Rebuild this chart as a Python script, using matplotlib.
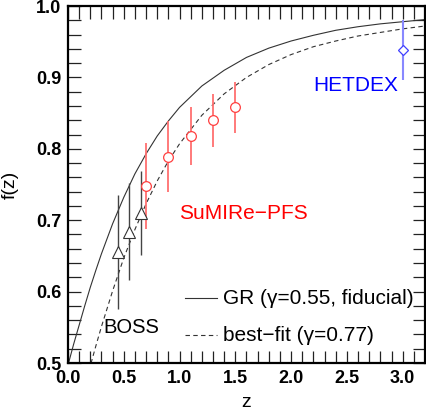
import matplotlib
matplotlib.use("Agg")
import matplotlib.pyplot as plt
from matplotlib.ticker import MultipleLocator

plt.rcParams["font.family"] = ["Liberation Sans", "DejaVu Sans"]

# growth rate curves
z_curve = [0.0, 0.05, 0.1, 0.15, 0.2, 0.25, 0.3, 0.4, 0.5, 0.6, 0.7, 0.8, 0.9,
           1.0, 1.2, 1.4, 1.6, 1.8, 2.0, 2.2, 2.4, 2.6, 2.8, 3.0, 3.2]
f_gr = [0.497, 0.526, 0.553, 0.580, 0.606, 0.630, 0.653, 0.695, 0.732, 0.765,
        0.793, 0.818, 0.839, 0.858, 0.888, 0.910, 0.928, 0.941, 0.951, 0.959,
        0.966, 0.971, 0.975, 0.978, 0.981]
f_best = [0.375, 0.406, 0.437, 0.467, 0.496, 0.524, 0.551, 0.601, 0.647, 0.687,
          0.723, 0.755, 0.783, 0.807, 0.847, 0.877, 0.900, 0.918, 0.932, 0.943,
          0.951, 0.958, 0.963, 0.968, 0.972]

# survey forecasts
boss_z = [0.45, 0.55, 0.65]
boss_f = [0.655, 0.684, 0.710]
boss_err = [0.080, 0.068, 0.059]

pfs_z = [0.7, 0.9, 1.1, 1.3, 1.5]
pfs_f = [0.748, 0.789, 0.818, 0.840, 0.858]
pfs_err = [0.060, 0.050, 0.040, 0.037, 0.036]

hetdex_z = [3.0]
hetdex_f = [0.938]
hetdex_err = [0.042]

fig = plt.figure(figsize=(4.26, 4.15), dpi=100)
ax = fig.add_axes([0.1596, 0.1253, 0.838, 0.8602])

ax.plot(z_curve, f_gr, "-", color="#333333", lw=0.8)
ax.plot(z_curve, f_best, "--", color="#333333", lw=0.8, dashes=(4, 3))

ax.errorbar(boss_z, boss_f, yerr=boss_err, fmt="^", ms=8, mfc="white",
            mec="#333333", mew=0.8, ecolor="#444444", elinewidth=1.0, capsize=0)
ax.errorbar(pfs_z, pfs_f, yerr=pfs_err, fmt="o", ms=7, mfc="white",
            mec="#ff4040", mew=0.9, ecolor="#ff7070", elinewidth=1.3, capsize=0)
ax.errorbar(hetdex_z, hetdex_f, yerr=hetdex_err, fmt="D", ms=5.5, mfc="white",
            mec="#4040ff", mew=0.9, ecolor="#8888ff", elinewidth=1.5, capsize=0)

ax.text(2.955, 0.889, "HETDEX", color="blue", fontsize=15, ha="right", va="center")
ax.text(0.997, 0.710, "SuMIRe\u2212PFS", color="red", fontsize=15, ha="left", va="center")
ax.text(0.314, 0.550, "BOSS", color="black", fontsize=14.5, ha="left", va="center")

# hand-made legend
ax.plot([1.05, 1.34], [0.591, 0.591], "-", color="#333333", lw=0.8)
ax.plot([1.05, 1.34], [0.539, 0.539], "--", color="#333333", lw=0.8, dashes=(4, 3))
ax.text(1.393, 0.591, "GR (\u03b3=0.55, fiducial)", fontsize=15, ha="left", va="center")
ax.text(1.393, 0.539, "best\u2212fit (\u03b3=0.77)", fontsize=15, ha="left", va="center")

ax.set_xlim(0, 3.2)
ax.set_ylim(0.5, 1.0)
ax.xaxis.set_major_locator(MultipleLocator(0.5))
ax.xaxis.set_minor_locator(MultipleLocator(0.1))
ax.yaxis.set_major_locator(MultipleLocator(0.1))
ax.yaxis.set_minor_locator(MultipleLocator(0.02))
ax.xaxis.set_major_formatter(plt.FormatStrFormatter("%.1f"))
ax.yaxis.set_major_formatter(plt.FormatStrFormatter("%.1f"))
ax.tick_params(which="both", direction="in", top=True, right=True,
               length=9, width=0.9, color="#222222")
ax.tick_params(which="major", labelsize=13, pad=5)
for lab in ax.get_xticklabels() + ax.get_yticklabels():
    lab.set_fontweight("bold")
for sp in ax.spines.values():
    sp.set_linewidth(1.6)

ax.set_xlabel("z", fontsize=14, labelpad=5)
ax.set_ylabel("f(z)", fontsize=14, labelpad=12)

fig.savefig("out.png", dpi=100)
